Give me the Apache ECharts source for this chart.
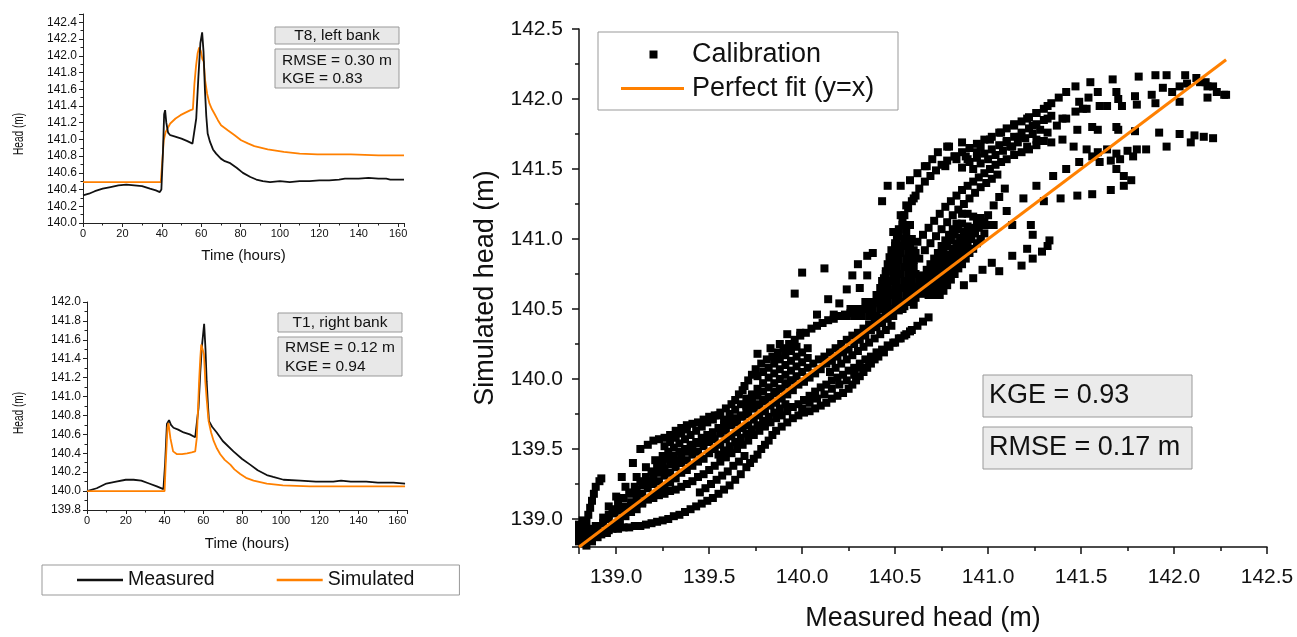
<!DOCTYPE html>
<html>
<head>
<meta charset="utf-8">
<script src="https://cdn.jsdelivr.net/npm/echarts@6/dist/echarts.min.js"></script>
<style>
html,body{margin:0;padding:0;background:#fff;}
#c{width:1297px;height:637px;}
</style>
</head>
<body>
<div id="c"></div>
<script>
// ---------------- Time series data (T8, left bank) ----------------
const t8MeasTime = [0,3,6,10,14,18,22,26,30,34,37,39,39.8,40.6,41.2,41.7,42.3,43.2,44.3,46,50,53,55.6,56.5,57.5,58.6,59.6,60.5,61.2,61.9,62.6,63.3,64.5,66,67.6,70,72,74.4,78,81.2,85,88,91.3,95,100,105,110,115,120,125,130,133,136,140,145,150,154,156,160,163];
const t8Measured = [140.33,140.35,140.38,140.41,140.43,140.45,140.46,140.45,140.44,140.41,140.39,140.37,140.40,140.85,141.30,141.35,141.20,141.08,141.05,141.04,141.01,140.98,140.95,140.96,141.25,141.75,142.15,142.28,142.05,141.60,141.28,141.07,140.97,140.88,140.83,140.77,140.74,140.72,140.66,140.60,140.55,140.52,140.50,140.49,140.50,140.49,140.50,140.50,140.51,140.51,140.52,140.53,140.53,140.53,140.54,140.53,140.53,140.52,140.52,140.52];
const t8SimTime = [0,10,20,30,39.5,40.3,41,42,44.3,47,49.5,52,54.6,55.8,56.6,57.4,58.2,59.0,59.8,60.6,61.3,62,63,64.2,65.5,66.7,68.5,70.1,73.5,77,80.3,84,87,93.8,102,110,119,128,136,150,163];
const t8Simulated = [140.49,140.49,140.49,140.49,140.49,140.75,140.99,141.09,141.19,141.25,141.29,141.32,141.35,141.36,141.67,141.88,142.03,142.10,142.06,141.96,141.93,141.71,141.55,141.43,141.36,141.31,141.23,141.17,141.11,141.05,140.99,140.95,140.92,140.88,140.85,140.83,140.82,140.82,140.82,140.81,140.81];

// ---------------- Time series data (T1, right bank) ----------------
const t1MeasTime = [0,5,10,15,20,24,28,32,36,39.4,40.3,41.2,42.3,43.3,44.6,47,49.8,53,55.8,56.8,57.5,58.4,59.2,60.4,61.1,61.7,62.4,62.9,64.5,66.9,70,75.5,80,84.1,88,92.7,96,101.3,110,118,127,131,136,144,150,153,158,164];
const t1Measured = [140.00,140.03,140.08,140.10,140.12,140.12,140.11,140.08,140.05,140.02,140.30,140.71,140.75,140.70,140.67,140.65,140.62,140.60,140.57,140.58,140.88,141.25,141.52,141.77,141.50,141.16,140.90,140.74,140.68,140.62,140.53,140.42,140.34,140.28,140.22,140.17,140.15,140.12,140.11,140.10,140.10,140.11,140.10,140.10,140.09,140.09,140.09,140.08];
const t1SimTime = [0,10,20,30,40,40.5,41.5,42,43,44.4,46.4,49,51.6,54,55.8,56.6,57.2,57.8,58.4,58.9,59.6,60.3,61,61.8,62.7,64,65.3,67,68.7,71,73.9,76,79,82,85.9,92.7,101,115,127,145,164];
const t1Simulated = [140.00,140.00,140.00,140.00,140.00,140.25,140.67,140.72,140.56,140.42,140.39,140.39,140.40,140.41,140.42,140.56,140.85,141.16,141.40,141.55,141.57,141.45,141.16,140.95,140.74,140.62,140.53,140.45,140.39,140.33,140.28,140.23,140.18,140.14,140.11,140.08,140.06,140.05,140.05,140.05,140.05];

// ---------------- Calibration scatter: [measured, simulated] ----------------
const calBottomLeft = [[138.80,138.84],[138.80,138.88],[138.80,138.92],[138.80,138.96],[138.83,138.86],[138.83,138.91],[138.83,138.95],[138.86,138.87],[138.86,138.93],[138.89,138.88],[138.89,138.95],[138.92,138.89],[138.95,138.90],[138.82,138.99],[138.98,138.96],[139.01,138.97]];
const calSpike = [[138.84,138.98],[138.85,139.03],[138.86,139.08],[138.87,139.13],[138.88,139.18],[138.89,139.23],[138.91,139.27],[138.92,139.29]];
const calTraceA = [[138.80,138.88],[138.83,138.89],[138.86,138.90],[138.89,138.90],[138.92,138.91],[138.95,138.92],[138.98,138.93],[139.01,138.93],[139.04,138.94],[139.07,138.94],[139.10,138.95],[139.13,138.95],[139.16,138.96],[139.19,138.97],[139.22,138.98],[139.25,138.99],[139.28,139.00],[139.31,139.02],[139.34,139.03],[139.37,139.05],[139.40,139.07],[139.43,139.09],[139.46,139.11],[139.49,139.13],[139.52,139.15],[139.55,139.18],[139.58,139.21],[139.61,139.24],[139.64,139.28],[139.67,139.32],[139.70,139.37],[139.72,139.40],[139.74,139.43],[139.76,139.46],[139.78,139.50],[139.80,139.53],[139.82,139.56],[139.84,139.60],[139.86,139.63],[139.89,139.66],[139.92,139.69],[139.95,139.72],[139.98,139.74],[140.01,139.76],[140.04,139.77],[140.07,139.79],[140.10,139.81],[140.13,139.83],[140.16,139.86],[140.19,139.88],[140.22,139.90],[140.25,139.93],[140.27,139.96],[140.29,139.99],[140.31,140.02],[140.33,140.05],[140.35,140.08],[140.37,140.11],[140.39,140.14],[140.41,140.16],[140.44,140.19],[140.47,140.23],[140.50,140.26],[140.53,140.29],[140.56,140.32],[140.59,140.35],[140.62,140.38],[140.65,140.41],[140.68,140.44]];
const calTraceA2 = [[139.45,139.19],[139.48,139.22],[139.51,139.25],[139.54,139.28],[139.57,139.31],[139.60,139.34],[139.63,139.38],[139.66,139.41],[139.69,139.45]];
const calTraceA3 = [[140.00,139.79],[140.04,139.83],[140.08,139.86],[140.12,139.89],[140.16,139.93],[140.20,139.96],[140.24,139.99],[140.28,140.03],[140.32,140.08],[140.36,140.12]];
const calTraceB = [[138.93,139.01],[138.96,139.03],[138.99,139.05],[139.02,139.06],[139.05,139.08],[139.08,139.09],[139.11,139.11],[139.14,139.12],[139.17,139.14],[139.20,139.15],[139.23,139.17],[139.26,139.18],[139.29,139.20],[139.32,139.21],[139.35,139.23],[139.38,139.25],[139.41,139.27],[139.44,139.30],[139.47,139.32],[139.50,139.35],[139.53,139.38],[139.56,139.41],[139.59,139.44],[139.62,139.47],[139.65,139.50],[139.68,139.53],[139.71,139.56],[139.74,139.60],[139.77,139.63],[139.80,139.66],[139.83,139.69],[139.86,139.72],[139.89,139.74],[139.92,139.77],[139.95,139.80],[139.98,139.82],[140.01,139.85],[140.04,139.88],[140.07,139.91],[140.10,139.94],[140.13,139.96],[140.16,139.99],[140.19,140.01],[140.22,140.03],[140.25,140.06],[140.28,140.08],[140.31,140.11],[140.34,140.14],[140.37,140.16],[140.40,140.19],[140.43,140.21],[140.46,140.24],[140.49,140.26],[140.52,140.29],[140.55,140.31],[140.58,140.34]];
const calTraceBC = [[139.55,139.46],[139.58,139.49],[139.61,139.52],[139.64,139.55],[139.67,139.58],[139.70,139.61],[139.73,139.64],[139.76,139.67],[139.79,139.70],[139.82,139.73],[139.85,139.76],[139.88,139.79],[139.91,139.82],[140.15,140.05],[140.18,140.08],[140.21,140.11],[140.24,140.14],[140.27,140.17],[140.30,140.20],[140.33,140.23],[140.36,140.26],[140.39,140.29],[140.42,140.32],[140.45,140.35],[140.48,140.38]];
const calTraceC = [[138.84,138.81],[138.87,138.84],[138.90,138.87],[138.93,138.90],[138.96,138.92],[138.99,138.96],[139.02,138.99],[139.05,139.02],[139.08,139.05],[139.11,139.07],[139.14,139.11],[139.17,139.14],[139.20,139.17],[139.23,139.21],[139.26,139.23],[139.29,139.26],[139.32,139.29],[139.35,139.33],[139.38,139.35],[139.41,139.38],[139.44,139.41],[139.47,139.43],[139.50,139.47],[139.53,139.50],[139.56,139.53],[139.59,139.57],[139.62,139.59],[139.65,139.62],[139.68,139.65],[139.71,139.67],[139.74,139.71],[139.77,139.74],[139.80,139.77],[139.83,139.81],[139.86,139.83],[139.89,139.86],[139.92,139.89],[139.95,139.92],[139.98,139.96],[140.01,139.98],[140.04,140.01],[140.07,140.04],[140.10,140.07],[140.13,140.11],[140.16,140.13],[140.19,140.16],[140.22,140.19],[140.25,140.21],[140.28,140.25],[140.31,140.28],[140.34,140.31],[140.37,140.35],[140.40,140.37],[140.43,140.40],[140.46,140.43],[140.49,140.45],[140.52,140.49],[140.55,140.52],[140.58,140.55],[140.61,140.58],[140.64,140.61],[140.67,140.64]];
const calTraceC2 = [[138.90,138.95],[138.93,138.97],[138.96,139.00],[138.99,139.04],[139.02,139.07],[139.05,139.09],[139.08,139.12],[139.11,139.16],[139.14,139.18],[139.17,139.22],[139.20,139.25],[139.23,139.27],[139.26,139.31],[139.29,139.33],[139.32,139.37],[139.35,139.40],[139.38,139.42],[139.41,139.46],[139.44,139.48],[139.47,139.52],[139.50,139.55],[139.53,139.57],[139.56,139.61],[139.59,139.63],[139.62,139.67],[139.65,139.69],[139.68,139.73],[139.71,139.75],[139.74,139.79],[139.77,139.81],[139.80,139.85],[139.83,139.87],[139.86,139.91],[139.89,139.93],[139.92,139.97],[139.95,139.99]];
const calTraceC3 = [[139.08,139.18],[139.11,139.21],[139.14,139.24],[139.17,139.27],[139.20,139.30],[139.23,139.33],[139.26,139.36],[139.29,139.39],[139.32,139.42],[139.35,139.45],[139.38,139.48],[139.41,139.51],[139.44,139.54],[139.47,139.57]];
const calTraceD = [[138.98,139.07],[139.01,139.11],[139.04,139.15],[139.07,139.19],[139.10,139.23],[139.13,139.27],[139.16,139.30],[139.19,139.34],[139.22,139.37],[139.25,139.40],[139.28,139.43],[139.31,139.45],[139.34,139.48],[139.37,139.50],[139.40,139.53],[139.43,139.55],[139.46,139.58],[139.49,139.60],[139.52,139.62],[139.55,139.65],[139.58,139.67],[139.61,139.70],[139.64,139.72],[139.67,139.74],[139.70,139.77],[139.73,139.79],[139.76,139.82],[139.79,139.84],[139.82,139.87],[139.85,139.90],[139.88,139.93],[139.91,139.96],[139.94,139.99],[139.97,140.02],[140.00,140.05],[140.03,140.08],[140.06,140.11],[140.09,140.14],[140.12,140.16],[140.15,140.19],[140.18,140.22],[140.21,140.25],[140.24,140.28],[140.27,140.31],[140.30,140.33],[140.33,140.36],[140.36,140.39],[140.39,140.41],[140.42,140.44],[140.45,140.47],[140.48,140.49],[140.51,140.52],[140.54,140.55],[140.57,140.57],[140.60,140.60]];
const calTraceD2 = [[139.25,139.45],[139.28,139.48],[139.31,139.51],[139.34,139.54],[139.37,139.57],[139.40,139.60],[139.43,139.63],[139.46,139.66],[139.49,139.69],[139.52,139.71],[139.55,139.74]];
const calTraceD3 = [[139.26,139.52],[139.29,139.55],[139.32,139.58],[139.35,139.61],[139.38,139.64]];
const calTraceD4 = [[139.70,139.81],[139.73,139.84],[139.76,139.88],[139.79,139.91],[139.82,139.94],[139.85,139.97],[139.88,140.00],[139.91,140.03],[139.94,140.06],[139.97,140.09],[140.00,140.12],[140.03,140.15]];
const calTraceF = [[139.58,139.71],[139.61,139.75],[139.64,139.78],[139.67,139.82],[139.70,139.86],[139.73,139.89],[139.76,139.93],[139.79,139.97],[139.82,140.01],[139.85,140.04],[139.88,140.07],[139.91,140.10],[139.94,140.13],[139.97,140.16],[140.00,140.19],[140.03,140.22]];
const calTraceG = [[139.76,140.02],[139.79,140.05],[139.82,140.08],[139.85,140.11],[139.88,140.14],[139.91,140.17],[139.94,140.20],[139.97,140.23]];
const calTraceE = [[139.20,139.56],[139.23,139.57],[139.26,139.58],[139.29,139.60],[139.32,139.63],[139.35,139.65],[139.38,139.67],[139.41,139.68],[139.44,139.69],[139.47,139.71],[139.50,139.73],[139.53,139.74],[139.56,139.76],[139.59,139.79],[139.62,139.82],[139.64,139.85],[139.66,139.89],[139.68,139.92],[139.69,139.95],[139.71,139.99],[139.73,140.03],[139.75,140.07],[139.78,140.11],[139.81,140.14],[139.84,140.16],[139.87,140.19],[139.90,140.22],[139.93,140.25],[139.96,140.28],[139.99,140.31],[140.02,140.33],[140.05,140.36],[140.08,140.38],[140.11,140.40],[140.14,140.42],[140.17,140.43],[140.20,140.45],[140.23,140.46],[140.26,140.47],[140.29,140.48],[140.32,140.50],[140.35,140.52],[140.38,140.54],[140.41,140.56],[140.44,140.58],[140.47,140.61],[140.50,140.64]];
const calLeftArc = [[138.96,139.09],[139.00,139.16],[139.05,139.23],[139.11,139.30],[139.16,139.37],[139.21,139.42],[139.03,139.30],[139.09,139.40],[139.13,139.50],[139.17,139.53]];
const calUpperLeftIsolated = [[139.76,140.18],[139.83,140.22],[139.88,140.25],[139.92,140.32],[139.99,140.33],[140.08,140.46],[140.17,140.46],[139.96,140.61],[140.00,140.76],[140.12,140.79],[140.14,140.57],[140.20,140.54],[140.24,140.64],[140.27,140.74],[140.31,140.65],[140.30,140.82],[140.35,140.88],[140.38,140.90],[140.35,140.74]];
const calBlob = [[140.20,140.45],[140.24,140.45],[140.28,140.45],[140.32,140.45],[140.36,140.45],[140.40,140.45],
  [140.26,140.50],[140.30,140.50],[140.34,140.50],[140.38,140.50],[140.42,140.50],[140.46,140.50],[140.50,140.50],[140.54,140.50],
  [140.34,140.55],[140.38,140.55],[140.42,140.55],[140.46,140.55],[140.50,140.55],[140.54,140.55],[140.58,140.55],
  [140.40,140.60],[140.44,140.60],[140.48,140.60],[140.52,140.60],[140.56,140.60],[140.60,140.60],
  [140.42,140.65],[140.46,140.65],[140.50,140.65],[140.54,140.65],[140.58,140.65],[140.62,140.65],
  [140.43,140.70],[140.47,140.70],[140.51,140.70],[140.55,140.70],[140.59,140.70],[140.63,140.70],
  [140.45,140.75],[140.49,140.75],[140.53,140.75],[140.57,140.75],[140.61,140.75],
  [140.47,140.80],[140.51,140.80],[140.55,140.80],[140.59,140.80],
  [140.48,140.85],[140.52,140.85],[140.56,140.85],[140.60,140.85],
  [140.49,140.90],[140.53,140.90],[140.57,140.90],[140.61,140.90],
  [140.50,140.95],[140.54,140.95],[140.58,140.95],
  [140.51,141.00],[140.55,141.00],[140.59,141.00],
  [140.52,141.05],[140.56,141.05],[140.54,141.10],[140.58,141.10]];
const calFanTop = [[140.44,140.72],[140.45,140.77],[140.46,140.82],[140.47,140.87],[140.48,140.92],[140.50,140.97],[140.51,141.02],[140.52,141.07],[140.54,141.12],[140.55,141.17],[140.57,141.22],[140.59,141.27],[140.61,141.31],[140.63,141.36],[140.66,141.41],[140.69,141.45],[140.72,141.49],[140.75,141.53],[140.78,141.56],[140.82,141.59],[140.86,141.62],[140.90,141.65],[140.94,141.68],[140.98,141.71],[141.02,141.73],[141.06,141.76],[141.10,141.79],[141.14,141.81],[141.18,141.84],[141.22,141.87],[141.26,141.90],[141.30,141.93],[141.34,141.97],[141.38,142.01],[141.42,142.05],[141.47,142.09],[141.55,142.12],[141.67,142.14],[141.81,142.16],[141.90,142.17],[141.96,142.17],[142.06,142.17],[142.12,142.15],[142.17,142.12],[142.21,142.09],[142.27,142.03]];
const calFanTopInner = [[140.86,141.51],[140.90,141.55],[140.94,141.58],[140.98,141.61],[141.02,141.64],[141.06,141.67],[141.10,141.70],[141.14,141.73],[141.18,141.76],[141.22,141.79],[141.26,141.82],[141.30,141.85],[141.34,141.88]];
const calFanMid = [[140.92,141.50],[140.96,141.54],[141.00,141.57],[141.04,141.60],[141.08,141.63],[141.12,141.66],[141.16,141.69],[141.20,141.72],[141.24,141.75],[141.28,141.78]];
const calTopRows = [[141.32,141.95],[141.47,141.91],[141.49,141.98],[141.53,141.93],[141.54,142.01],[141.59,142.05],[141.60,141.95],[141.64,141.95],[141.69,142.05],[141.70,142.00],[141.72,141.95],[141.79,142.02],[141.80,141.96],[141.88,142.03],[141.90,141.97],[141.94,142.08],[141.99,142.05],[142.03,142.09],[142.03,141.98],[142.07,142.11],[142.14,142.12],[142.18,142.09],[142.18,142.01],[142.23,142.05],[142.28,142.03]];
const calBranch = [[140.55,140.80],[140.57,140.86],[140.60,140.92],[140.62,140.98],[140.65,141.03],[140.68,141.08],[140.71,141.13],[140.74,141.18],[140.77,141.23],[140.80,141.27],[140.83,141.31],[140.86,141.35],[140.89,141.38],[140.92,141.41],[140.95,141.44],[140.98,141.47],[141.01,141.50],[141.04,141.53],[141.07,141.55],[141.10,141.57],[141.14,141.60],[141.18,141.62],[141.22,141.64],[141.26,141.67],[141.30,141.70]];
const calBranch2 = [[140.60,140.80],[140.63,140.86],[140.66,140.92],[140.69,140.97],[140.72,141.02],[140.75,141.07],[140.78,141.12],[140.81,141.17],[140.84,141.21],[140.87,141.25],[140.90,141.29],[140.93,141.33],[140.96,141.37],[140.99,141.40],[141.02,141.43],[141.05,141.46]];
const calStreaks = [[140.62,140.62],[140.64,140.66],[140.66,140.70],[140.68,140.74],[140.70,140.78],[140.72,140.82],[140.74,140.86],[140.76,140.90],[140.78,140.95],[140.80,140.99],[140.82,141.03],[140.84,141.07],[140.86,141.11],[140.89,141.18],
  [140.68,140.60],[140.70,140.64],[140.72,140.68],[140.74,140.72],[140.76,140.76],[140.78,140.80],[140.80,140.84],[140.82,140.88],[140.84,140.92],[140.86,140.96],[140.88,141.00],[140.90,141.04],[140.92,141.08],[140.94,141.12],[140.96,141.15],
  [140.74,140.60],[140.76,140.63],[140.78,140.67],[140.80,140.71],[140.82,140.75],[140.84,140.79],[140.86,140.82],[140.88,140.86],[140.90,140.90],[140.92,140.93],[140.94,140.97],[140.96,141.00],[140.98,141.04],[141.01,141.10],
  [140.97,141.10],[141.00,141.17],[141.03,141.24],[141.06,141.30],[141.09,141.36]];
const calStreaks2 = [[140.59,140.62],[140.61,140.66],[140.63,140.70],[140.65,140.74],[140.67,140.78],[140.69,140.82],[140.71,140.86],[140.73,140.90],[140.75,140.95],[140.77,140.99],[140.79,141.03],[140.81,141.07],[140.83,141.11],[140.86,141.18],
  [140.65,140.61],[140.67,140.65],[140.69,140.69],[140.71,140.73],[140.73,140.77],[140.75,140.81],[140.77,140.85],[140.79,140.89],[140.81,140.93],[140.83,140.97],[140.85,141.01],[140.87,141.05],[140.89,141.09],[140.92,141.16],
  [140.71,140.60],[140.73,140.64],[140.75,140.68],[140.77,140.72],[140.79,140.76],[140.81,140.80],[140.83,140.84],[140.85,140.88],[140.87,140.92],[140.89,140.96],[140.91,141.00],[140.93,141.04],[140.95,141.08],[140.98,141.12]];
const calInnerArcs = [[140.79,141.66],[140.86,141.69],[140.88,141.59],[140.82,141.59],[140.77,141.52],[140.73,141.62],[140.66,141.52],[140.62,141.47],[140.58,141.42],[140.53,141.38],[140.46,141.38],[140.43,141.27],[140.60,141.29],[140.56,141.24],[140.53,141.17],[140.49,141.05]];
const calUpperDense = [[141.21,141.86],[141.26,141.90],[141.24,141.81],[141.32,141.86],[141.37,141.81],[141.40,141.86],[141.26,141.71],[141.32,141.76],[141.34,141.69],[141.14,141.82],[141.17,141.73],[141.21,141.66],[141.13,141.66],[141.10,141.69],[141.07,141.76],[141.01,141.71],[140.96,141.66],[140.94,141.62],[140.89,141.57],[140.83,141.57],[140.78,141.66],[140.70,141.57],[140.67,141.52],[141.46,141.66],[141.48,141.78],[141.40,141.71],[141.42,141.86],[141.51,141.93],[141.56,141.80],[141.69,141.80]];
const calMidRow = [[141.59,141.78],[141.70,141.78],[141.79,141.77],[141.92,141.76],[142.03,141.75],[142.11,141.74],[142.16,141.73],[142.21,141.72],[142.09,141.69],[141.96,141.66]];
const calAlongFit = [[141.53,141.64],[141.59,141.62],[141.64,141.64],[141.69,141.61],[141.75,141.63],[141.80,141.64],[141.85,141.64],[141.78,141.59],[141.71,141.57],[141.66,141.56],[141.60,141.55],[141.69,141.50],[141.73,141.45],[141.77,141.42],[141.73,141.38],[141.66,141.35],[141.56,141.32],[141.48,141.31],[141.39,141.29],[141.30,141.27],[141.19,141.29],[141.26,141.38],[141.35,141.45],[141.42,141.50],[141.49,141.55],[141.56,141.59],[141.10,141.20],[141.03,141.10],[140.96,141.00],[140.89,140.91],[140.81,140.81],[140.74,140.72],[140.67,140.63],[140.60,140.53]];
const calLowerRight = [[141.13,141.10],[141.23,141.10],[141.24,141.03],[141.21,140.93],[141.33,140.99],[141.29,140.91],[141.24,140.86],[141.18,140.81],[141.13,140.88],[141.06,140.77],[141.32,140.95],[141.02,140.83],[140.97,140.78],[140.92,140.72],[140.87,140.67]];
const perfectFit = [[138.8,138.8],[142.28,142.28]];

// Axis tick steps
const smallTimeTicks = 20, smallHeadTicks = 0.2;

const calibration = [].concat(calBottomLeft, calSpike, calTraceA, calTraceA2, calTraceA3, calTraceB, calTraceBC, calTraceC,
  calTraceC2, calTraceC3, calTraceD, calTraceD2, calTraceD3, calTraceD4, calTraceF, calTraceG, calTraceE, calLeftArc,
  calUpperLeftIsolated, calBlob, calFanTop, calFanTopInner, calFanMid, calTopRows, calBranch, calBranch2, calStreaks,
  calStreaks2, calInnerArcs, calUpperDense, calMidRow, calAlongFit, calLowerRight);

const zip = (a, b) => a.map((v, i) => [v, b[i]]);
const FONT = 'Liberation Sans, Arial, sans-serif';
const ORANGE = '#ff8000';
const BLACK = '#111111';

function smallX(gridIndex, max, gap) {
  return {
    type: 'value', gridIndex, min: 0, max, interval: smallTimeTicks,
    axisLine: {lineStyle: {color: '#222', width: 1}},
    axisTick: {length: 4, lineStyle: {color: '#222'}},
    minorTick: {show: true, splitNumber: 2, length: 2.5, lineStyle: {color: '#222'}},
    splitLine: {show: false},
    axisLabel: {fontSize: 11, color: '#111', margin: 5, showMaxLabel: false},
    name: 'Time (hours)', nameLocation: 'middle', nameGap: gap,
    nameTextStyle: {fontSize: 15, color: '#111'}
  };
}
function smallY(gridIndex, min, max) {
  return {
    type: 'value', gridIndex, min, max, interval: smallHeadTicks,
    axisLine: {show: true, lineStyle: {color: '#222', width: 1}},
    axisTick: {show: true, length: 4, lineStyle: {color: '#222'}},
    minorTick: {show: true, splitNumber: 2, length: 2.5, lineStyle: {color: '#222'}},
    splitLine: {show: false},
    axisLabel: {fontSize: 12, color: '#111', margin: 6, showMaxLabel: max === 142.0,
      formatter: v => v.toFixed(1)}
  };
}
function bigAxis(gridIndex, isX) {
  return {
    type: 'value', gridIndex, min: 138.8, max: 142.5, splitNumber: 7, minInterval: 0.5, maxInterval: 0.5,
    axisLine: {show: true, lineStyle: {color: '#111', width: 1.5}},
    axisTick: {show: true, length: 7, lineStyle: {color: '#111', width: 1.5}},
    minorTick: {show: true, splitNumber: 2, length: 4, lineStyle: {color: '#111', width: 1.5}},
    splitLine: {show: false},
    axisLabel: {fontSize: 21, color: '#111', margin: isX ? 20 : 16, showMinLabel: false,
      formatter: v => v.toFixed(1)},
    name: isX ? 'Measured head (m)' : 'Simulated head (m)',
    nameLocation: 'middle', nameGap: isX ? 58 : 80,
    nameTextStyle: {fontSize: 27, color: '#111'}
  };
}

const chart = echarts.init(document.getElementById('c'), null, {renderer: 'canvas'});
const boxFill = '#e8e8e8', boxStroke = '#999';
const txt = (text, x, y, size, align) => ({type: 'text', silent: true, style: {text, x, y, fill: '#111',
  font: size + 'px ' + FONT, textAlign: align || 'left', textVerticalAlign: 'middle'}});
const box = (x, y, w, h, fill) => ({type: 'rect', silent: true, shape: {x, y, width: w, height: h},
  style: {fill: fill || boxFill, stroke: boxStroke, lineWidth: 1}});
const vtitle = (text, x, y) => ({type: 'text', silent: true, x, y, rotation: Math.PI / 2, scaleX: 0.72,
  style: {text, fill: '#111', font: '14px ' + FONT, textAlign: 'center', textVerticalAlign: 'middle'}});

chart.setOption({
  animation: false,
  textStyle: {fontFamily: FONT},
  grid: [
    {left: 83, top: 14, right: 1297 - 404, bottom: 637 - 223},
    {left: 87, top: 302, right: 1297 - 407, bottom: 637 - 510},
    {left: 579, top: 29, right: 30, bottom: 86}
  ],
  xAxis: [smallX(0, 163, 25), smallX(1, 165, 26), bigAxis(2, true)],
  yAxis: [smallY(0, 140.0, 142.5), smallY(1, 139.8, 142.0), bigAxis(2, false)],
  legend: {
    data: ['Measured', 'Simulated'], left: 42, top: 565, orient: 'horizontal',
    icon: 'rect', itemWidth: 46, itemHeight: 2.5, itemGap: 62,
    padding: [5, 45, 5, 35], borderColor: '#999', borderWidth: 1,
    textStyle: {fontSize: 19.5, color: '#111'}, selectedMode: false
  },
  series: [
    {name: 'Measured', type: 'line', xAxisIndex: 0, yAxisIndex: 0, data: zip(t8MeasTime, t8Measured),
      symbol: 'none', color: BLACK, lineStyle: {width: 1.8, color: BLACK}, z: 3},
    {name: 'Simulated', type: 'line', xAxisIndex: 0, yAxisIndex: 0, data: zip(t8SimTime, t8Simulated),
      symbol: 'none', color: ORANGE, lineStyle: {width: 1.8, color: ORANGE}, z: 2},
    {name: 'Measured', type: 'line', xAxisIndex: 1, yAxisIndex: 1, data: zip(t1MeasTime, t1Measured),
      symbol: 'none', color: BLACK, lineStyle: {width: 1.8, color: BLACK}, z: 2},
    {name: 'Simulated', type: 'line', xAxisIndex: 1, yAxisIndex: 1, data: zip(t1SimTime, t1Simulated),
      symbol: 'none', color: ORANGE, lineStyle: {width: 1.8, color: ORANGE}, z: 3},
    {name: 'Calibration', type: 'scatter', xAxisIndex: 2, yAxisIndex: 2, data: calibration,
      symbol: 'rect', symbolSize: 8, itemStyle: {color: '#000', opacity: 1}, z: 2, silent: true},
    {name: 'Perfect fit (y=x)', type: 'line', xAxisIndex: 2, yAxisIndex: 2, data: perfectFit,
      symbol: 'none', color: ORANGE, lineStyle: {width: 3, color: ORANGE}, z: 4, silent: true}
  ],
  graphic: [
    vtitle('Head (m)', 19, 134), vtitle('Head (m)', 19, 413),
    box(275, 27, 124, 17), txt('T8, left bank', 337, 35.5, 15.5, 'center'),
    box(275, 49, 124, 39), txt('RMSE = 0.30 m', 282, 61, 15.5), txt('KGE = 0.83', 282, 79, 15.5),
    box(278, 313, 124, 19), txt('T1, right bank', 340, 322.5, 15.5, 'center'),
    box(278, 337, 124, 39), txt('RMSE = 0.12 m', 285, 348, 15.5), txt('KGE = 0.94', 285, 367, 15.5),
    box(598, 32, 300, 78, '#ffffff'),
    {type: 'rect', silent: true, shape: {x: 649.5, y: 50.5, width: 8, height: 8}, style: {fill: '#000'}},
    {type: 'line', silent: true, shape: {x1: 621, y1: 88.5, x2: 684, y2: 88.5}, style: {stroke: ORANGE, lineWidth: 3}},
    txt('Calibration', 692, 54.5, 27), txt('Perfect fit (y=x)', 692, 88.5, 27),
    box(983, 375, 209, 42, '#ebebeb'), txt('KGE = 0.93', 989, 396, 27),
    box(983, 427, 209, 42, '#ebebeb'), txt('RMSE = 0.17 m', 989, 448, 27)
  ]
});
</script>
</body>
</html>
